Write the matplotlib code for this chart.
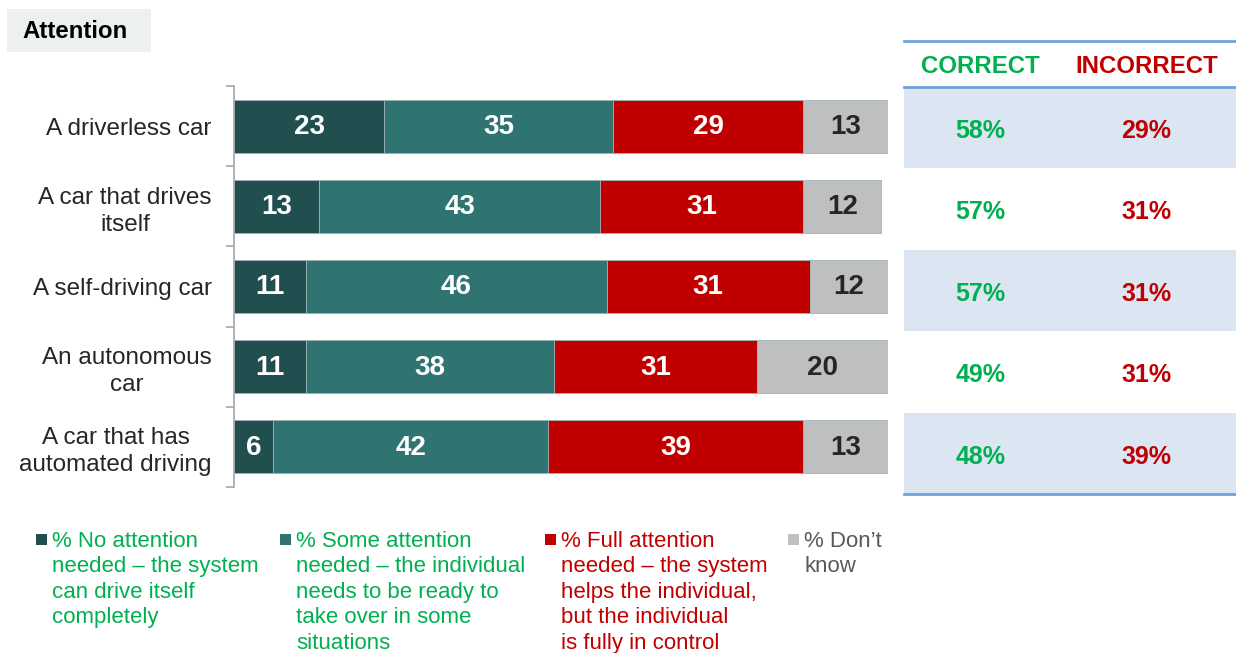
import numpy as np
import matplotlib.pyplot as plt
from matplotlib.patches import Rectangle

plt.rcParams['font.family'] = ['Liberation Sans', 'DejaVu Sans']

categories = ["A driverless car", "A car that drives\nitself", "A self-driving car",
              "An autonomous\ncar", "A car that has\nautomated driving"]
no_attention = [23, 13, 11, 11, 6]
some_attention = [35, 43, 46, 38, 42]
full_attention = [29, 31, 31, 31, 39]
dont_know = [13, 12, 12, 20, 13]
correct = [58, 57, 57, 49, 48]
incorrect = [29, 31, 31, 31, 39]

legend_labels = ["% No attention\nneeded \u2013 the system\ncan drive itself\ncompletely",
                 "% Some attention\nneeded \u2013 the individual\nneeds to be ready to\ntake over in some\nsituations",
                 "% Full attention\nneeded \u2013 the system\nhelps the individual,\nbut the individual\nis fully in control",
                 "% Don\u2019t\nknow"]

seg_colors = ["#214F4F", "#307472", "#C00000", "#BFBFBF"]
label_colors = ["white", "white", "white", "#262626"]
legend_text_colors = ["#00B050", "#00B050", "#C00000", "#595959"]
green = "#00B050"
red = "#C00000"

W, H = 1236, 653
fig = plt.figure(figsize=(W / 100, H / 100), dpi=100)

def px_axes(x0, y0, x1, y1):
    return fig.add_axes([x0 / W, 1 - y1 / H, (x1 - x0) / W, (y1 - y0) / H])

# stacked bars
ax = px_axes(234, 86, 888, 487)
y = np.arange(len(categories))
series = [no_attention, some_attention, full_attention, dont_know]
left = np.zeros(len(categories))
for vals, col, tcol in zip(series, seg_colors, label_colors):
    vals = np.array(vals, dtype=float)
    ax.barh(y, vals, left=left, height=0.66, color=col, edgecolor="#9FB3B3", linewidth=0.6)
    for yi, l, v in zip(y, left, vals):
        ax.text(l + v / 2, yi + 0.01, f"{int(v)}", ha="center", va="center",
                color=tcol, fontsize=20, fontweight="bold")
    left += vals

ax.set_xlim(0, 100)
ax.set_ylim(len(categories) - 0.5, -0.5)
ax.set_xticks([])
ax.set_yticks(y)
ax.set_yticklabels(categories, fontsize=17.5, color="#262626",
                   multialignment="center", linespacing=1.3)
ax.tick_params(axis="y", which="major", length=0, pad=16)
ax.set_yticks(np.arange(-0.5, len(categories)), minor=True)
ax.tick_params(axis="y", which="minor", length=6, color="#A6A6A6", width=1.2)
for s in ["top", "right", "bottom"]:
    ax.spines[s].set_visible(False)
ax.spines["left"].set_color("#A6A6A6")
ax.spines["left"].set_linewidth(1.2)

# correct / incorrect table
tb = px_axes(904, 41, 1236, 494)
header_h = 46 / 81.4
tb.set_xlim(0, 1)
tb.set_ylim(len(categories) - 0.5, -0.5 - header_h)
tb.axis("off")
for i in range(len(categories)):
    if i % 2 == 0:
        tb.add_patch(Rectangle((0, i - 0.5), 1, 1, color="#DCE6F2", lw=0))
    tb.text(0.23, i + 0.04, f"{correct[i]}%", ha="center", va="center",
            color=green, fontsize=18, fontweight="bold")
    tb.text(0.73, i + 0.04, f"{incorrect[i]}%", ha="center", va="center",
            color=red, fontsize=18, fontweight="bold")
for yl in [-0.5 - header_h, -0.5, len(categories) - 0.5]:
    tb.axhline(yl, color="#6FA2DA", lw=2, clip_on=False)
tb.text(0.23, -0.5 - header_h / 2 + 0.03, "CORRECT", ha="center", va="center",
        color=green, fontsize=17.3, fontweight="bold")
tb.text(0.73, -0.5 - header_h / 2 + 0.03, "INCORRECT", ha="center", va="center",
        color=red, fontsize=17.3, fontweight="bold")

# title box
fig.patches.append(Rectangle((7 / W, 1 - 52 / H), 144 / W, 43 / H,
                             transform=fig.transFigure, color="#EDF0F0", lw=0))
fig.text(22 / W, 1 - 32 / H, "Attention", ha="left", va="center",
         fontsize=17.3, fontweight="bold", color="black")

# legend
sq_x = [36, 280, 545, 788]
for sx, lab, col, tcol in zip(sq_x, legend_labels, seg_colors, legend_text_colors):
    fig.patches.append(Rectangle((sx / W, 1 - 545 / H), 11 / W, 11 / H,
                                 transform=fig.transFigure, color=col, lw=0))
    fig.text((sx + 16) / W, 1 - 531 / H, lab, ha="left", va="top",
             fontsize=16, color=tcol, linespacing=1.28)

fig.savefig("out.png", dpi=100)
